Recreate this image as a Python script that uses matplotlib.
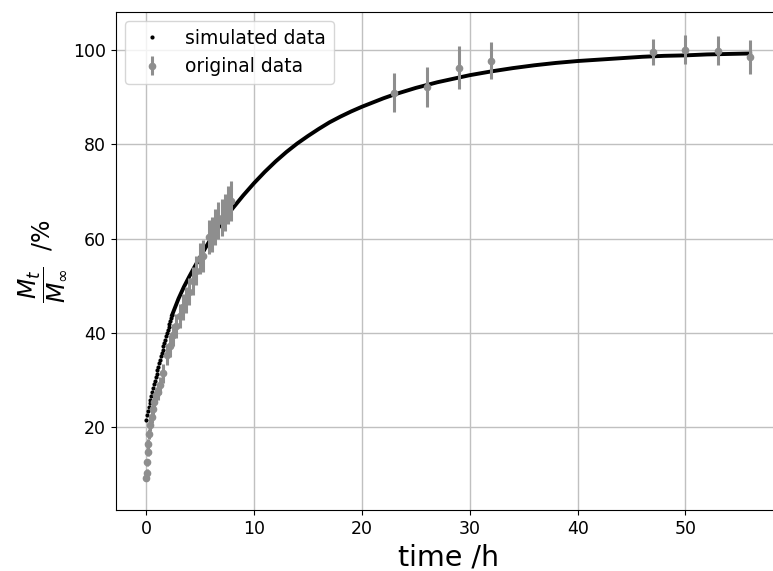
import numpy as np
import matplotlib
matplotlib.use('Agg')
from matplotlib import pyplot as plt

# simulated data, early part (individual dots visible)
sim_t_early = [0.00, 0.08, 0.16, 0.24, 0.32, 0.40, 0.48, 0.56, 0.64, 0.72,
               0.80, 0.88, 0.96, 1.04, 1.12, 1.20, 1.28, 1.36, 1.44, 1.52,
               1.60, 1.68, 1.76, 1.84, 1.92, 2.00, 2.08, 2.16, 2.24, 2.32, 2.40]
sim_y_early = [21.6, 22.6, 23.5, 24.3, 25.1, 25.9, 26.7, 27.5, 28.3, 29.1,
               29.9, 30.6, 31.4, 32.1, 32.9, 33.6, 34.3, 35.1, 35.8, 36.5,
               37.2, 37.9, 38.6, 39.3, 40.0, 40.6, 41.3, 41.9, 42.6, 43.2, 43.8]

# simulated data, later part (dots merge into a solid line)
sim_t_late = [2.4, 3, 3.5, 4, 4.5, 5, 5.5, 6, 6.5, 7, 7.5, 8, 8.5, 9, 9.5, 10,
              10.5, 11, 11.5, 12, 13, 14, 15, 16, 17, 18, 19, 20, 21, 22, 23,
              24, 25, 26, 27, 28, 29, 30, 32, 34, 36, 38, 40, 42, 44, 46, 48,
              50, 52, 54, 56]
sim_y_late = [43.8, 47.3, 49.8, 52.0, 54.1, 56.1, 58.1, 60.0, 61.7, 63.3, 64.9,
              66.4, 67.8, 69.2, 70.5, 71.8, 73.0, 74.2, 75.3, 76.4, 78.4, 80.2,
              81.8, 83.3, 84.7, 85.9, 87.0, 88.0, 88.9, 89.8, 90.6, 91.3, 92.0,
              92.6, 93.2, 93.7, 94.2, 94.7, 95.5, 96.2, 96.8, 97.3, 97.7, 98.0,
              98.3, 98.6, 98.8, 98.9, 99.1, 99.2, 99.3]

# original (measured) data
orig_t = [0.0, 0.05, 0.1, 0.15, 0.2, 0.3, 0.4, 0.5, 0.6, 0.75, 0.9, 1.1, 1.3,
          1.6, 1.9, 2.2, 2.5, 2.8, 3.1, 3.4, 3.7, 4.0, 4.3, 4.6, 5.0, 5.3,
          5.8, 6.1, 6.4, 6.7, 7.0, 7.3, 7.6, 7.9,
          23, 26, 29, 32, 47, 50, 53, 56]
orig_y = [9.2, 10.4, 12.6, 14.8, 16.5, 18.6, 20.5, 22.3, 23.8, 25.3, 26.9, 27.6,
          28.9, 31.5, 35.4, 37.3, 39.6, 41.5, 43.6, 45.5, 47.0, 48.8, 51.0, 53.2,
          55.8, 56.4, 60.3, 61.0, 62.5, 63.8, 64.5, 65.6, 67.2, 68.0,
          91.0, 92.2, 96.3, 97.8, 99.6, 100.1, 99.9, 98.5]
orig_err = [0.6, 0.7, 0.8, 0.9, 1.0, 1.1, 1.2, 1.3, 1.4, 1.5, 1.6, 1.7, 1.8,
            2.0, 2.2, 2.3, 2.4, 2.5, 2.6, 2.7, 2.8, 2.9, 3.0, 3.1, 3.3, 3.4,
            3.6, 3.7, 3.8, 3.9, 4.0, 4.0, 4.1, 4.2,
            4.1, 4.2, 4.6, 4.0, 2.8, 3.1, 3.1, 3.6]

fig = plt.figure(figsize=(7.73, 5.71), dpi=100)
ax = fig.add_axes([0.150, 0.107, 0.8596, 0.872])

ax.plot(sim_t_late, sim_y_late, '-', color='black', lw=2.8, zorder=2)
ax.plot(sim_t_early, sim_y_early, 'o', color='black', ms=3.0, mew=0,
        zorder=2, label='simulated data')
ax.errorbar(orig_t, orig_y, yerr=orig_err, fmt='o', color='#8e8e8e', ms=4.5,
            elinewidth=2.2, capsize=0, zorder=3, label='original data')

ax.set_xlim(-2.8, 58.8)
ax.set_ylim(2.5, 108.1)
ax.set_xticks([0, 10, 20, 30, 40, 50])
ax.set_yticks([20, 40, 60, 80, 100])
ax.tick_params(labelsize=12.5)
ax.grid(True, color='#c0c0c0', lw=1.0)
ax.set_axisbelow(True)

ax.set_xlabel('time /h', fontsize=20.5)
ax.set_ylabel(r'$\dfrac{M_t}{M_\infty}$  /%', fontsize=17)

ax.legend(loc='upper left', fontsize=13.5, markerscale=1.0)

fig.savefig('out.png', dpi=100)
